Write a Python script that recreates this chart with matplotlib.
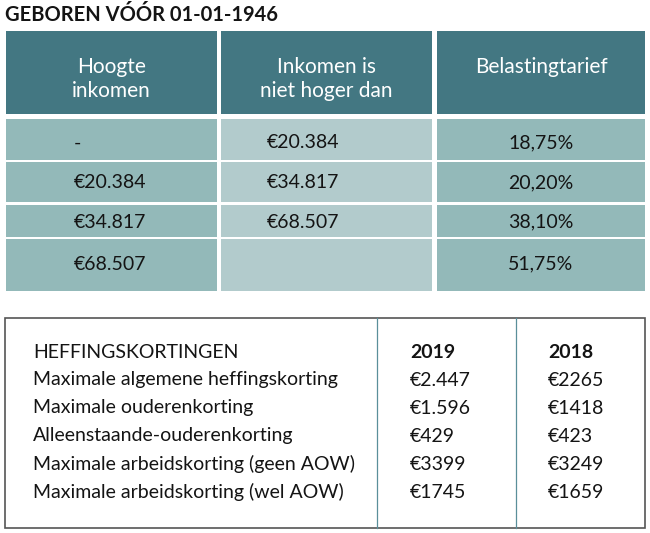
import matplotlib
matplotlib.use('Agg')
import matplotlib.pyplot as plt
from matplotlib.patches import Rectangle

plt.rcParams['font.family'] = ['Lato', 'DejaVu Sans']

title = 'GEBOREN VÓÓR 01-01-1946'
headers = ['Hoogte\ninkomen', 'Inkomen is\nniet hoger dan', 'Belastingtarief']
hoogte = ['-', '€20.384', '€34.817', '€68.507']
niet_hoger = ['€20.384', '€34.817', '€68.507', '']
tarief = ['18,75%', '20,20%', '38,10%', '51,75%']

korting_title = 'HEFFINGSKORTINGEN'
years = ['2019', '2018']
kortingen = ['Maximale algemene heffingskorting',
             'Maximale ouderenkorting',
             'Alleenstaande-ouderenkorting',
             'Maximale arbeidskorting (geen AOW)',
             'Maximale arbeidskorting (wel AOW)']
k2019 = ['€2.447', '€1.596', '€429', '€3399', '€1745']
k2018 = ['€2265', '€1418', '€423', '€3249', '€1659']

W, H = 650, 533
fig = plt.figure(figsize=(6.5, 5.33), dpi=100)
ax = fig.add_axes([0, 0, 1, 1])
ax.set_xlim(0, W)
ax.set_ylim(H, 0)
ax.axis('off')

dark = '#437782'
mid = '#93b9b9'
light = '#b2cbcc'
ink = '#141414'

ax.text(5, 15, title, fontsize=14.5, fontweight='bold', va='center', ha='left', color=ink)

cols = [(6, 217), (221, 432), (437, 645)]
fs = 14
for (x0, x1), h in zip(cols, headers):
    ax.add_patch(Rectangle((x0, 31), x1 - x0, 83, color=dark, lw=0))
    for k, line in enumerate(h.split('\n')):
        ax.text((x0 + x1) / 2, 67 + k * 24, line, color='white', fontsize=15,
                ha='center', va='center')

rows = [(119, 160), (162, 202), (205, 237), (239, 291)]
text_y = [143, 183, 222, 264]
for i, (y0, y1) in enumerate(rows):
    yc = text_y[i]
    ax.add_patch(Rectangle((cols[0][0], y0), cols[0][1] - cols[0][0], y1 - y0, color=mid, lw=0))
    ax.add_patch(Rectangle((cols[1][0], y0), cols[1][1] - cols[1][0], y1 - y0, color=light, lw=0))
    ax.add_patch(Rectangle((cols[2][0], y0), cols[2][1] - cols[2][0], y1 - y0, color=mid, lw=0))
    ax.text(74, yc, hoogte[i], fontsize=fs, va='center', ha='left', color=ink)
    ax.text(267, yc, niet_hoger[i], fontsize=fs, va='center', ha='left', color=ink)
    ax.text(541, yc, tarief[i], fontsize=fs, va='center', ha='center', color=ink)

# lower box
ax.add_patch(Rectangle((5, 318), 640, 210, fill=False, ec='#555555', lw=1.2))
for xv in (377, 516):
    ax.plot([xv, xv], [318, 528], color='#5a8f9a', lw=0.9)

ax.text(33, 352, korting_title, fontsize=fs, va='center', ha='left', color=ink)
ax.text(410, 352, years[0], fontsize=fs, fontweight='bold', va='center', ha='left', color=ink)
ax.text(548, 352, years[1], fontsize=fs, fontweight='bold', va='center', ha='left', color=ink)
for i, lab in enumerate(kortingen):
    y = 380 + i * 28
    ax.text(33, y, lab, fontsize=fs, va='center', ha='left', color=ink)
    ax.text(410, y, k2019[i], fontsize=fs, va='center', ha='left', color=ink)
    ax.text(548, y, k2018[i], fontsize=fs, va='center', ha='left', color=ink)

fig.savefig('out.png', dpi=100, facecolor='white')
